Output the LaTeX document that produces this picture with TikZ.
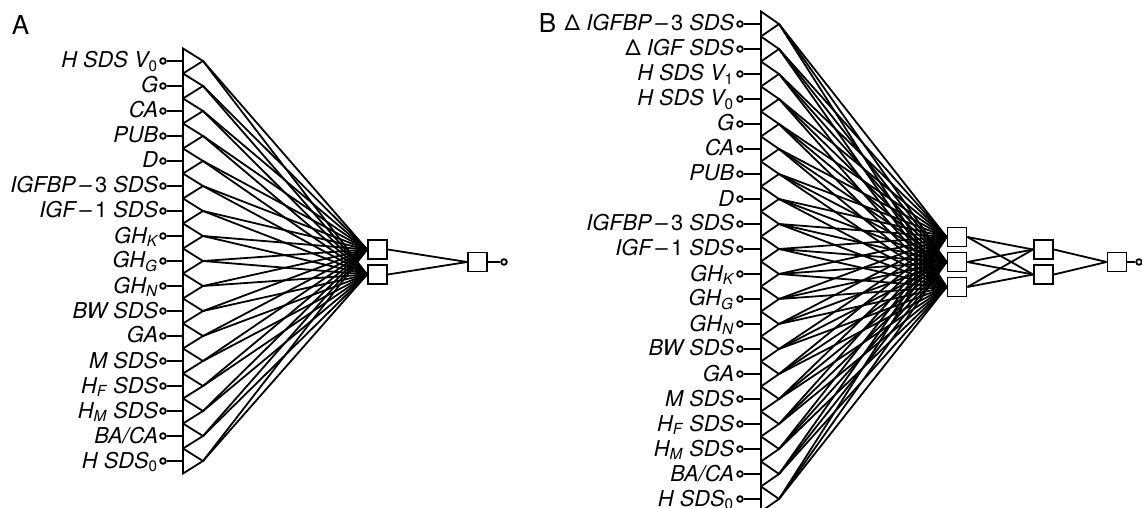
\documentclass[tikz,border=0pt]{standalone}
\usepackage{fontspec}
\setmainfont{TeX Gyre Heros}
\usepackage{tikz}
\usetikzlibrary{positioning}

\newcommand\sbx[1]{\textsubscript{#1}}

\begin{document}
\begin{tikzpicture}[
  x=0.5pt, y=-0.5pt, line width=0.9pt,
  inp/.style={circle, draw, fill=white, inner sep=0pt, minimum size=2.8pt},
  unit/.style={draw, fill=white, inner sep=0pt, minimum size=9.5pt},
  lab/.style={anchor=base east, inner sep=0pt, font=\fontsize{10.9}{13}\selectfont\itshape},
  panel/.style={anchor=north west, inner sep=0pt, font=\fontsize{13}{15}\selectfont}
]
\useasboundingbox (0,0) rectangle (1142,508);

% panel A
\node[panel] (pa) at (11,15) {A};
\foreach \name [count=\i from 0] in {H SDS V\sbx{\upshape 0}, G, CA, PUB, D,
    {IGFBP\,--\,{\upshape 3} SDS}, {IGF\,--\,{\upshape 1} SDS}, GH\sbx{K}, GH\sbx{G}, GH\sbx{N},
    BW SDS, GA, M SDS, H\sbx{F} SDS, H\sbx{M} SDS, BA/CA, H SDS\sbx{\upshape 0}} {
  \pgfmathsetmacro\yy{61+25*\i}
  \node[lab] (la\i) at (159,\yy+7) {\name};
  \node[inp] (ia\i) at (163,\yy) {};
  \coordinate (ba\i) at (183,\yy);
  \coordinate (ta\i) at (203,\yy);
  \draw (183,\yy-12.5) -- (ta\i) -- (183,\yy+12.5) -- cycle;
  \draw (ia\i) -- (ba\i);
}
\node[unit] (ha1) at (377.5,249.5) {};
\node[unit] (ha2) at (377.5,274.5) {};
\node[unit] (oa) at (477.5,262) {};
\node[inp] (ya) at (504,262) {};
\foreach \i in {0,...,16}
  \foreach \h in {1,2}
    \draw (ta\i) -- (ha\h.west);
\draw (ha1.east) -- (oa.west) (ha2.east) -- (oa.west);
\draw (oa) -- (ya);

% panel B
\node[panel] (pb) at (538,13) {B};
\foreach \name [count=\i from 0] in {{\upshape Δ} IGFBP\,--\,{\upshape 3} SDS, {\upshape Δ} IGF SDS,
    H SDS V\sbx{\upshape 1}, H SDS V\sbx{\upshape 0}, G, CA, PUB, D,
    {IGFBP\,--\,{\upshape 3} SDS}, {IGF\,--\,{\upshape 1} SDS}, GH\sbx{K}, GH\sbx{G}, GH\sbx{N},
    BW SDS, GA, M SDS, H\sbx{F} SDS, H\sbx{M} SDS, BA/CA, H SDS\sbx{\upshape 0}} {
  \pgfmathsetmacro\yy{24+25*\i}
  \node[lab] (lb\i) at (735,\yy+7) {\name};
  \node[inp] (ib\i) at (740,\yy) {};
  \coordinate (bb\i) at (761,\yy);
  \coordinate (tb\i) at (779,\yy);
  \draw (761,\yy-12.5) -- (tb\i) -- (761,\yy+12.5) -- cycle;
  \draw (ib\i) -- (bb\i);
}
\node[unit] (hb1) at (957,237) {};
\node[unit] (hb2) at (957,262) {};
\node[unit] (hb3) at (957,287) {};
\node[unit] (gb1) at (1043.5,249.5) {};
\node[unit] (gb2) at (1043.5,274.5) {};
\node[unit] (ob) at (1117,262) {};
\node[inp] (yb) at (1139,262) {};
\foreach \i in {0,...,19}
  \foreach \h in {1,2,3}
    \draw (tb\i) -- (hb\h.west);
\foreach \h in {1,2,3}
  \foreach \g in {1,2}
    \draw (hb\h.east) -- (gb\g.west);
\draw (gb1.east) -- (ob.west) (gb2.east) -- (ob.west);
\draw (ob) -- (yb);
\end{tikzpicture}
\end{document}
